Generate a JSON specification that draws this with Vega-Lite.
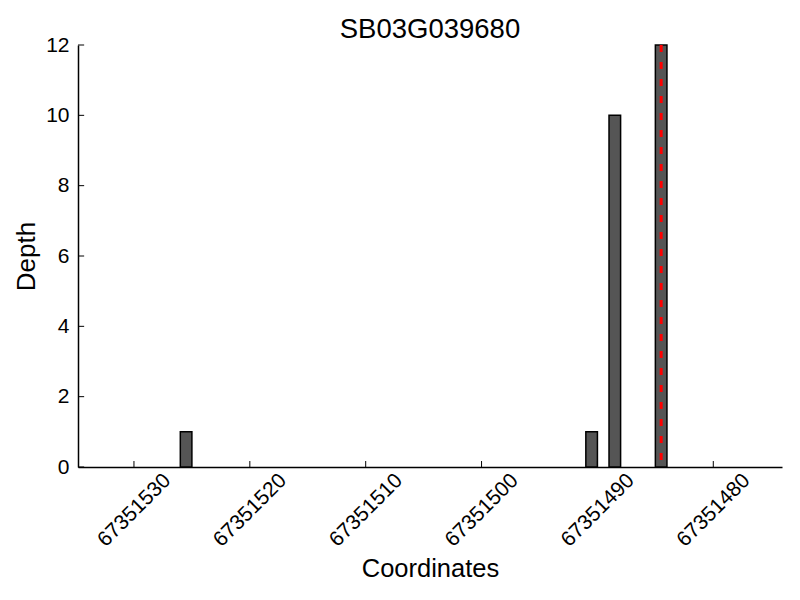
{
  "$schema": "https://vega.github.io/schema/vega-lite/v6.json",
  "width": 704,
  "height": 422,
  "autosize": "none",
  "padding": {"left": 78, "top": 45, "right": 18, "bottom": 133},
  "config": {
    "view": {"stroke": null},
    "font": "Liberation Sans"
  },
  "title": {
    "text": "SB03G039680",
    "fontSize": 27.5,
    "fontWeight": "normal",
    "font": "Liberation Sans",
    "color": "black",
    "offset": -6,
    "dy": 3
  },
  "data": {
    "values": [
      {"start": 67351525, "end": 67351526, "depth": 1},
      {"start": 67351490, "end": 67351491, "depth": 1},
      {"start": 67351488, "end": 67351489, "depth": 10},
      {"start": 67351484, "end": 67351485, "depth": 12}
    ]
  },
  "layer": [
    {
      "mark": {"type": "bar", "fill": "#555555", "stroke": "black", "strokeWidth": 1.5},
      "encoding": {
        "x": {
          "field": "start",
          "type": "quantitative",
          "scale": {"domain": [67351474.07, 67351534.83], "reverse": true, "nice": false, "zero": false},
          "axis": {
            "title": "Coordinates",
            "values": [67351530, 67351520, 67351510, 67351500, 67351490, 67351480],
            "format": "d",
            "labelAngle": -45,
            "labelAlign": "center",
            "labelBaseline": "middle",
            "labelFontSize": 21,
            "labelColor": "black",
            "labelPadding": 43,
            "ticks": false,
            "domainColor": "black",
            "domainWidth": 1.5,
            "grid": false,
            "titleFontSize": 25.5,
            "titleFontWeight": "normal",
            "titleColor": "black",
            "titlePadding": 6
          }
        },
        "x2": {"field": "end"},
        "y": {
          "field": "depth",
          "type": "quantitative",
          "scale": {"domain": [0, 12], "nice": false},
          "axis": {
            "title": "Depth",
            "values": [0, 2, 4, 6, 8, 10, 12],
            "labelFontSize": 21,
            "labelColor": "black",
            "labelPadding": 9,
            "ticks": false,
            "domainColor": "black",
            "domainWidth": 1.5,
            "grid": false,
            "titleFontSize": 26,
            "titleFontWeight": "normal",
            "titleColor": "black",
            "titlePadding": 6
          }
        },
        "y2": {"datum": 0}
      }
    },
    {
      "data": {"values": [
        {"x": 67351530, "y0": 0, "y1": 0.17},
        {"x": 67351520, "y0": 0, "y1": 0.17},
        {"x": 67351510, "y0": 0, "y1": 0.17},
        {"x": 67351500, "y0": 0, "y1": 0.17},
        {"x": 67351490, "y0": 0, "y1": 0.17},
        {"x": 67351480, "y0": 0, "y1": 0.17}
      ]},
      "mark": {"type": "rule", "color": "black", "strokeWidth": 1},
      "encoding": {
        "x": {"field": "x", "type": "quantitative"},
        "y": {"field": "y0", "type": "quantitative"},
        "y2": {"field": "y1"}
      }
    },
    {
      "data": {"values": [
        {"y": 0, "x0": 67351534.83, "x1": 67351534.3},
        {"y": 2, "x0": 67351534.83, "x1": 67351534.3},
        {"y": 4, "x0": 67351534.83, "x1": 67351534.3},
        {"y": 6, "x0": 67351534.83, "x1": 67351534.3},
        {"y": 8, "x0": 67351534.83, "x1": 67351534.3},
        {"y": 10, "x0": 67351534.83, "x1": 67351534.3},
        {"y": 12, "x0": 67351534.83, "x1": 67351534.3}
      ]},
      "mark": {"type": "rule", "color": "black", "strokeWidth": 1},
      "encoding": {
        "y": {"field": "y", "type": "quantitative"},
        "x": {"field": "x0", "type": "quantitative"},
        "x2": {"field": "x1"}
      }
    },
    {
      "data": {"values": [{"pos": 67351484.5}]},
      "mark": {"type": "rule", "color": "red", "strokeWidth": 3, "strokeDash": [7, 10]},
      "encoding": {
        "x": {"field": "pos", "type": "quantitative"}
      }
    }
  ]
}
